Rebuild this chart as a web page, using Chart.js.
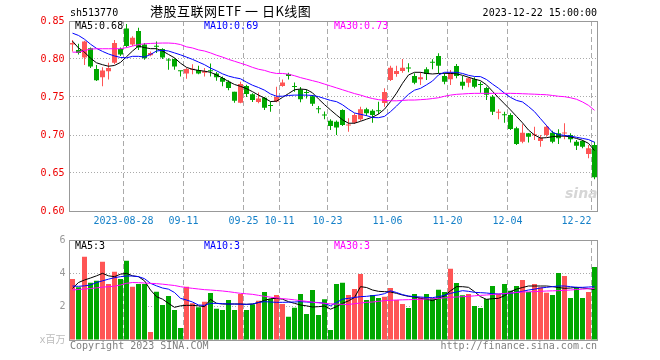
<!DOCTYPE html>
<html>
<head>
<meta charset="utf-8">
<script src="https://cdn.jsdelivr.net/npm/chart.js@4.4.0/dist/chart.umd.min.js"></script>
<style>
body { margin: 0; background: #fff; }
#wrap { position: relative; width: 660px; height: 360px; overflow: hidden; }
.box { position: absolute; left: 0; width: 660px; }
.t { position: absolute; font: 10px/12px 'DejaVu Sans Mono', monospace; white-space: pre; }
</style>
</head>
<body>
<div id="wrap">
  <div class="box" style="top:0;height:232px"><canvas id="kline"></canvas></div>
  <div class="box" style="top:230px;height:130px"><canvas id="vol"></canvas></div>

  <div class="t" style="left:70px;top:7px">sh513770</div>
  <div style="position:absolute;left:150px;top:3px;font:13px/16px 'Noto Sans CJK SC',sans-serif;letter-spacing:0.5px;white-space:pre">港股互联网ETF 一 日K线图</div>
  <div class="t" style="right:63px;top:7px">2023-12-22 15:00:00</div>

  <div class="t" style="left:75px;top:20px;color:#000">MA5:0.68</div>
  <div class="t" style="left:204px;top:20px;color:#0000ff">MA10:0.69</div>
  <div class="t" style="left:334px;top:20px;color:#ff00ff">MA30:0.73</div>

  <div class="t" style="left:75px;top:240px;color:#000">MA5:3</div>
  <div class="t" style="left:204px;top:240px;color:#0000ff">MA10:3</div>
  <div class="t" style="left:334px;top:240px;color:#ff00ff">MA30:3</div>

  <div style="position:absolute;left:565px;top:185px;font:italic bold 14px 'DejaVu Sans',sans-serif;color:#d6d6d6">sina</div>

  <div class="t" style="left:70px;top:340px;color:#808080">Copyright 2023 SINA.COM</div>
  <div class="t" style="right:63px;top:340px;color:#808080">http://finance.sina.com.cn</div>
</div>

<script>
// trading days shown
const dates = [
  '2023-08-15','2023-08-16','2023-08-17','2023-08-18','2023-08-21','2023-08-22','2023-08-23','2023-08-24','2023-08-25','2023-08-28',
  '2023-08-29','2023-08-30','2023-08-31','2023-09-01','2023-09-04','2023-09-05','2023-09-06','2023-09-07','2023-09-08','2023-09-11',
  '2023-09-12','2023-09-13','2023-09-14','2023-09-15','2023-09-18','2023-09-19','2023-09-20','2023-09-21','2023-09-22','2023-09-25',
  '2023-09-26','2023-09-27','2023-09-28','2023-10-09','2023-10-10','2023-10-11','2023-10-12','2023-10-13','2023-10-16','2023-10-17',
  '2023-10-18','2023-10-19','2023-10-20','2023-10-23','2023-10-24','2023-10-25','2023-10-26','2023-10-27','2023-10-30','2023-10-31',
  '2023-11-01','2023-11-02','2023-11-03','2023-11-06','2023-11-07','2023-11-08','2023-11-09','2023-11-10','2023-11-13','2023-11-14',
  '2023-11-15','2023-11-16','2023-11-17','2023-11-20','2023-11-21','2023-11-22','2023-11-23','2023-11-24','2023-11-27','2023-11-28',
  '2023-11-29','2023-11-30','2023-12-01','2023-12-04','2023-12-05','2023-12-06','2023-12-07','2023-12-08','2023-12-11','2023-12-12',
  '2023-12-13','2023-12-14','2023-12-15','2023-12-18','2023-12-19','2023-12-20','2023-12-21','2023-12-22'
];

// x axis labels
const tickDates = ['2023-08-28','2023-09-11','2023-09-25','2023-10-11','2023-10-23','2023-11-06','2023-11-20','2023-12-04','2023-12-22'];
const tickText  = ['2023-08-28','09-11','09-25','10-11','10-23','11-06','11-20','12-04','12-22'];

// daily OHLC
const open = [
  0.819,0.812,0.802,0.814,0.787,0.776,0.784,0.795,0.813,0.840,
  0.819,0.837,0.819,0.805,0.817,0.813,0.799,0.800,0.7845,0.781,
  0.786,0.7855,0.782,0.785,0.781,0.775,0.770,0.757,0.7425,0.7645,
  0.7535,0.7435,0.749,0.7385,0.744,0.7645,0.7803,0.764,0.760,0.7557,
  0.751,0.7342,0.7262,0.7188,0.7175,0.733,0.7125,0.7162,0.7206,0.7338,
  0.732,0.7318,0.742,0.7724,0.7803,0.7842,0.7878,0.7776,0.7732,0.7864,
  0.7954,0.804,0.7776,0.7732,0.7908,0.7702,0.7689,0.7732,0.7662,0.762,
  0.7504,0.7292,0.7265,0.7263,0.7088,0.6912,0.7022,0.6998,0.6921,0.700,
  0.7031,0.7022,0.702,0.700,0.6912,0.6921,0.675,0.6868
];
const high = [
  0.825,0.820,0.824,0.815,0.792,0.789,0.795,0.825,0.815,0.846,
  0.830,0.841,0.821,0.810,0.823,0.814,0.801,0.801,0.7845,0.788,
  0.793,0.791,0.788,0.794,0.783,0.777,0.772,0.757,0.770,0.766,
  0.755,0.756,0.750,0.744,0.7636,0.773,0.782,0.769,0.763,0.760,
  0.7526,0.738,0.731,0.7206,0.719,0.734,0.722,0.7285,0.7373,0.736,
  0.7338,0.7439,0.7614,0.7912,0.7912,0.800,0.7943,0.7811,0.7825,0.789,
  0.7996,0.8075,0.7811,0.7855,0.7934,0.7776,0.7759,0.7759,0.770,0.7636,
  0.7526,0.7338,0.7307,0.7285,0.711,0.714,0.7026,0.711,0.700,0.7132,
  0.7057,0.7075,0.7154,0.7022,0.6934,0.6934,0.6868,0.6912
];
const low = [
  0.810,0.806,0.792,0.788,0.771,0.764,0.773,0.793,0.804,0.815,
  0.817,0.812,0.799,0.8035,0.808,0.800,0.786,0.786,0.777,0.774,
  0.780,0.780,0.777,0.777,0.7715,0.764,0.759,0.7425,0.7417,0.750,
  0.7434,0.7417,0.733,0.7307,0.743,0.7636,0.773,0.757,0.743,0.748,
  0.738,0.7285,0.7206,0.7066,0.700,0.7118,0.7044,0.7145,0.7188,0.725,
  0.7162,0.7276,0.7373,0.771,0.7768,0.782,0.7825,0.7667,0.7658,0.7724,
  0.7864,0.7811,0.7667,0.7658,0.7746,0.760,0.7627,0.7614,0.7557,0.746,
  0.7263,0.7206,0.7162,0.7066,0.6868,0.689,0.690,0.6934,0.6846,0.6978,
  0.689,0.6882,0.6943,0.690,0.6803,0.6825,0.6693,0.6417
];
const close = [
  0.821,0.808,0.823,0.790,0.772,0.785,0.788,0.821,0.806,0.817,
  0.828,0.815,0.801,0.808,0.816,0.802,0.798,0.790,0.784,0.787,
  0.787,0.781,0.784,0.784,0.776,0.770,0.762,0.745,0.767,0.754,
  0.746,0.748,0.736,0.738,0.750,0.769,0.7776,0.763,0.747,0.7553,
  0.741,0.7338,0.7258,0.7118,0.710,0.713,0.7135,0.7263,0.7338,0.7285,
  0.7263,0.7314,0.7565,0.7886,0.7842,0.7886,0.7874,0.7689,0.7759,0.7803,
  0.795,0.7912,0.7702,0.782,0.7776,0.7649,0.7746,0.7636,0.7658,0.753,
  0.7307,0.7296,0.726,0.7079,0.6882,0.7031,0.6978,0.7002,0.6965,0.711,
  0.6912,0.6956,0.7025,0.6943,0.686,0.6846,0.6825,0.6443
];

// price moving averages
const ma5 = [
  0.8235,0.8145,0.809,0.801,0.795,0.7925,0.7905,0.7915,0.7955,0.803,
  0.8105,0.817,0.815,0.8136,0.8136,0.8105,0.806,0.8015,0.7945,0.789,
  0.7864,0.785,0.784,0.7825,0.779,0.775,0.7705,0.7665,0.764,0.761,
  0.757,0.7525,0.7485,0.744,0.7445,0.7495,0.7545,0.7595,0.7605,0.7598,
  0.7555,0.7475,0.740,0.733,0.7263,0.720,0.7155,0.7155,0.718,0.7208,
  0.7235,0.7275,0.734,0.7439,0.755,0.768,0.779,0.7825,0.7825,0.781,
  0.7803,0.781,0.7811,0.781,0.7805,0.7785,0.776,0.7735,0.7715,0.766,
  0.7575,0.749,0.741,0.733,0.7245,0.716,0.7065,0.700,0.696,0.6965,
  0.6978,0.6985,0.6985,0.6975,0.6955,0.693,0.689,0.6795
];
const ma10 = [
  0.834,0.831,0.826,0.8195,0.814,0.810,0.8066,0.804,0.802,0.8015,
  0.8035,0.8035,0.8025,0.806,0.8105,0.8115,0.8105,0.808,0.8055,0.8025,
  0.7995,0.796,0.7925,0.788,0.7845,0.7805,0.7775,0.7755,0.774,0.7695,
  0.7655,0.7625,0.759,0.754,0.751,0.751,0.752,0.7525,0.7525,0.7525,
  0.752,0.7505,0.748,0.7455,0.7439,0.7398,0.734,0.729,0.7272,0.7255,
  0.723,0.7228,0.7245,0.7307,0.738,0.746,0.7535,0.759,0.7614,0.766,
  0.771,0.779,0.7825,0.7825,0.7825,0.781,0.7785,0.777,0.7768,0.773,
  0.767,0.7615,0.755,0.7495,0.7455,0.7435,0.7375,0.7307,0.7215,0.7125,
  0.7035,0.7005,0.6995,0.6985,0.697,0.6955,0.694,0.6905
];
const ma30 = [
  0.809,0.809,0.811,0.813,0.8135,0.8135,0.8135,0.8135,0.8135,0.815,
  0.817,0.819,0.820,0.8205,0.8208,0.821,0.821,0.8205,0.819,0.816,
  0.8145,0.812,0.8105,0.808,0.805,0.8025,0.7995,0.797,0.7945,0.792,
  0.789,0.7865,0.785,0.7825,0.781,0.781,0.780,0.778,0.7755,0.7735,
  0.7715,0.7695,0.767,0.7645,0.762,0.7595,0.757,0.7545,0.7525,0.750,
  0.748,0.7465,0.7455,0.745,0.745,0.7455,0.746,0.746,0.7465,0.747,
  0.748,0.749,0.751,0.7525,0.7535,0.754,0.7545,0.7548,0.7548,0.7548,
  0.7548,0.7548,0.7548,0.7548,0.7546,0.7543,0.754,0.7537,0.7533,0.753,
  0.752,0.751,0.7504,0.749,0.747,0.7435,0.739,0.7325
];

// volume, millions
const volume = [
  3.66,3.16,5.0,3.44,3.56,4.7,3.36,4.1,3.66,4.76,
  3.2,3.36,3.36,0.48,2.9,2.1,2.64,1.8,0.72,3.2,
  2.2,1.96,2.3,2.82,1.88,1.8,2.4,1.8,2.76,1.8,
  2.14,2.36,2.88,2.46,2.7,2.16,1.4,1.94,2.76,1.56,
  3.0,1.5,2.44,0.6,3.36,3.44,2.7,3.06,3.96,2.4,
  2.7,2.52,2.6,3.12,2.4,2.16,1.92,2.76,2.56,2.76,
  2.52,3.02,2.88,4.28,3.42,2.68,2.76,2.04,1.92,2.46,
  3.24,2.76,3.36,2.96,3.24,3.6,2.88,3.36,3.16,2.84,
  2.7,4.02,3.84,2.52,3.16,2.52,2.88,4.38
];
const volMa5 = [
  3.1,3.45,3.6,3.72,3.85,4.0,3.85,3.8,3.95,4.0,
  3.85,3.8,3.55,3.0,2.6,2.45,2.2,1.96,2.05,2.08,
  2.08,2.05,2.0,2.44,2.2,2.16,2.16,2.16,2.16,2.14,
  2.16,2.25,2.38,2.48,2.5,2.45,2.3,2.2,2.1,2.05,
  1.98,2.0,2.04,1.85,2.0,2.2,2.35,2.55,3.2,3.15,
  3.0,2.92,2.9,2.88,2.8,2.7,2.62,2.58,2.5,2.45,
  2.36,2.5,2.65,2.95,3.2,3.2,3.16,2.9,2.6,2.44,
  2.48,2.5,2.66,2.9,3.05,3.15,3.24,3.24,3.24,3.24,
  3.2,3.15,3.1,3.12,3.16,3.12,3.08,3.04
];
const volMa10 = [
  3.24,3.22,3.25,3.3,3.45,3.55,3.65,3.74,3.8,3.84,
  3.84,3.8,3.68,3.4,3.25,3.12,3.05,2.85,2.5,2.4,
  2.28,2.1,2.08,2.2,2.2,2.18,2.16,2.16,2.15,2.14,
  2.16,2.25,2.3,2.28,2.26,2.26,2.27,2.28,2.3,2.28,
  2.26,2.25,2.2,2.05,2.25,2.45,2.5,2.55,2.6,2.62,
  2.66,2.7,2.78,2.95,2.85,2.72,2.64,2.6,2.58,2.55,
  2.54,2.6,2.68,2.8,2.88,2.96,2.92,2.86,2.84,2.82,
  2.78,2.76,2.78,2.8,2.86,2.92,3.0,3.05,3.12,3.16,
  3.2,3.24,3.24,3.2,3.16,3.16,3.18,3.2
];
const volMa30 = [
  3.0,3.03,3.06,3.09,3.13,3.17,3.2,3.23,3.3,3.4,
  3.45,3.44,3.42,3.4,3.38,3.35,3.31,3.27,3.2,3.14,
  3.1,3.06,3.02,3.0,2.97,2.94,2.9,2.85,2.8,2.77,
  2.74,2.68,2.62,2.57,2.53,2.48,2.45,2.41,2.36,2.32,
  2.27,2.23,2.2,2.17,2.15,2.14,2.13,2.18,2.22,2.26,
  2.28,2.32,2.36,2.38,2.4,2.41,2.42,2.43,2.45,2.46,
  2.47,2.5,2.53,2.56,2.58,2.6,2.62,2.65,2.68,2.7,
  2.73,2.76,2.79,2.82,2.85,2.88,2.89,2.9,2.92,2.94,
  2.95,2.96,2.98,3.0,3.03,3.05,3.08,3.1
];

const RED = '#ff5555';
const GREEN = '#00a800';
const GRID = '#aaaaaa';
const MONO = 'DejaVu Sans Mono';

const candleColors = open.map((o, i) => close[i] > o ? RED : GREEN);
const tickIdx = tickDates.map(d => dates.indexOf(d));

// box around each plot area
const frame = {
    id: 'frame',
    afterDraw(chart) {
        const { ctx, chartArea: a } = chart;
        ctx.save();
        ctx.strokeStyle = '#999';
        ctx.lineWidth = 1;
        const top = Math.floor(a.top) + 0.5;
        ctx.strokeRect(a.left, top, a.right - a.left, Math.floor(a.bottom) - Math.floor(a.top));
        ctx.restore();
    }
};

function xAxis(withLabels) {
    return {
        type: 'category',
        offset: true,
        grid: {
            offset: true,
            drawTicks: false,
            color: c => tickIdx.includes(c.index) ? GRID : 'rgba(0,0,0,0)'
        },
        border: { display: false, dash: [5, 3] },
        ticks: {
            display: withLabels,
            autoSkip: false,
            maxRotation: 0,
            padding: 4,
            labelOffset: -3,
            color: '#1580c8',
            font: { family: MONO, size: 10 },
            callback: (v, i) => {
                const k = tickIdx.indexOf(i);
                if (k < 0) return '';
                // last label is pulled left so it stays inside the frame
                return i === dates.length - 1 ? tickText[k] + '     ' : tickText[k];
            }
        },
        afterFit: s => { s.height = withLabels ? 21 : 20; }
    };
}

function lineSet(data, color) {
    return {
        type: 'line', data, borderColor: color, borderWidth: 1,
        pointRadius: 0, tension: 0, order: 0
    };
}

const common = {
    responsive: true,
    maintainAspectRatio: false,
    animation: false,
    events: [],
    plugins: { legend: { display: false }, tooltip: { enabled: false } }
};

new Chart(document.getElementById('kline'), {
    type: 'bar',
    data: {
        labels: dates,
        datasets: [
            {
                data: low.map((l, i) => [l, high[i]]),
                backgroundColor: candleColors,
                barThickness: 1, grouped: false, inflateAmount: 0, order: 2
            },
            {
                data: open.map((o, i) => [o, close[i]]),
                backgroundColor: candleColors,
                barThickness: 5, minBarLength: 1, grouped: false, inflateAmount: 0, order: 1
            },
            lineSet(ma30, '#ff00ff'),
            lineSet(ma10, '#0000ff'),
            lineSet(ma5, '#000000')
        ]
    },
    options: {
        ...common,
        layout: { padding: { left: 0, right: 62.5, top: 21, bottom: 0 } },
        scales: {
            x: xAxis(true),
            y: {
                min: 0.60, max: 0.85,
                grid: {
                    drawTicks: false,
                    color: c => (c.tick.value > 0.601 && c.tick.value < 0.849) ? GRID : 'rgba(0,0,0,0)'
                },
                border: { display: false, dash: [1, 2] },
                ticks: {
                    stepSize: 0.05, padding: 5, color: '#ee0000',
                    font: { family: MONO, size: 10 },
                    callback: v => v.toFixed(2)
                },
                afterFit: s => { s.width = 69.5; }
            }
        }
    },
    plugins: [frame]
});

new Chart(document.getElementById('vol'), {
    type: 'bar',
    data: {
        labels: dates,
        datasets: [
            {
                data: volume,
                backgroundColor: candleColors,
                barThickness: 5, inflateAmount: 0, order: 1
            },
            lineSet(volMa30, '#ff00ff'),
            lineSet(volMa10, '#0000ff'),
            lineSet(volMa5, '#000000')
        ]
    },
    options: {
        ...common,
        layout: { padding: { left: 0, right: 62.5, top: 10, bottom: 0 } },
        scales: {
            x: xAxis(false),
            y: {
                min: 0, max: 6,
                grid: {
                    drawTicks: false,
                    color: c => (c.tick.value > 0 && c.tick.value < 6) ? GRID : 'rgba(0,0,0,0)'
                },
                border: { display: false, dash: [1, 2] },
                ticks: {
                    stepSize: 2, padding: 4,
                    color: c => c.tick.value === 0 ? '#bbbbbb' : '#999999',
                    font: { family: MONO + ', Noto Sans CJK SC', size: 10 },
                    callback: v => v === 0 ? 'x百万' : String(v)
                },
                afterFit: s => { s.width = 69.5; }
            }
        }
    },
    plugins: [frame]
});
</script>
</body>
</html>
